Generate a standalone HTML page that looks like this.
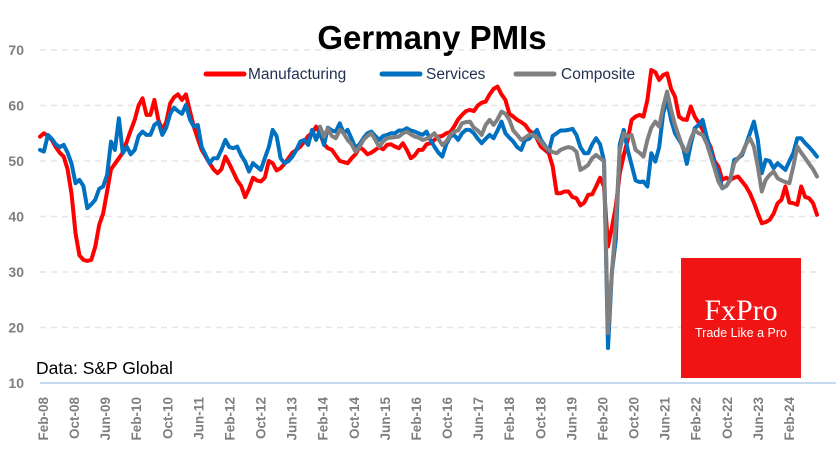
<!DOCTYPE html>
<html><head><meta charset="utf-8"><style>
html,body{margin:0;padding:0;background:#fff;}
#wrap{position:relative;width:836px;height:470px;overflow:hidden;font-family:"Liberation Sans",sans-serif;}
</style></head><body>
<div id="wrap">
<svg id="chart" width="836" height="470" xmlns="http://www.w3.org/2000/svg">
<text x="432" y="49" text-anchor="middle" font-family="Liberation Sans, sans-serif" font-weight="bold" font-size="33" fill="#000">Germany PMIs</text>
<g font-size="15.5" fill="#1f3050">
<g><line x1="206" y1="74" x2="244" y2="74" stroke="#ff0000" stroke-width="5" stroke-linecap="round"/><text x="248" y="79">Manufacturing</text></g>
<g><line x1="382" y1="74" x2="420" y2="74" stroke="#0070c0" stroke-width="5" stroke-linecap="round"/><text x="426" y="79">Services</text></g>
<g><line x1="516" y1="74" x2="554" y2="74" stroke="#808080" stroke-width="5" stroke-linecap="round"/><text x="561" y="79">Composite</text></g>
</g>
<g id="grid"></g>
<g id="yaxis"></g>
<g id="xaxis"></g>
<g id="series"></g>
<text x="36" y="374" font-size="17.5" fill="#000">Data: S&amp;P Global</text>
<g>
<rect x="681" y="258" width="120" height="120" fill="#f01414"/>
<text x="741" y="320" text-anchor="middle" font-family="Liberation Serif, serif" font-size="30" fill="#fff">FxPro</text>
<text x="741" y="337" text-anchor="middle" font-size="12.5" fill="#fff">Trade Like a Pro</text>
</g>
</svg>
</div>
<script>
const yTicks = [10,20,30,40,50,60,70];
const xTickLabels = ["Feb-08","Oct-08","Jun-09","Feb-10","Oct-10","Jun-11","Feb-12","Oct-12","Jun-13","Feb-14","Oct-14","Jun-15","Feb-16","Oct-16","Jun-17","Feb-18","Oct-18","Jun-19","Feb-20","Oct-20","Jun-21","Feb-22","Oct-22","Jun-23","Feb-24"];
const manufacturing = [54.4,55,54.5,53.8,52.5,51.5,50.8,48.5,44,37,33,32.2,32,32.2,34.5,38.5,40.5,44.5,48.5,49.5,50.5,51.5,53.5,55.5,57.4,60,61.3,58.3,58.3,61,57.4,55.6,57,60.4,61.5,62,61,62,59,56.2,54,52,50.8,49.6,48.5,47.8,48.5,50.8,49.5,48,46.5,45.5,43.5,45,47,46.5,46.3,47,50,49.6,48.3,48.7,49.5,50.5,51.5,52,52.6,53.5,54.5,55,56.2,55,53,52.3,52,51,50,49.8,49.6,50.5,51.2,52.5,52,51.2,51.5,52,52.5,52.1,52.9,53,52.6,52.3,53.2,52,50.5,51,52,52,53,53.2,53.8,54.4,54.5,55,55.2,56.2,57.5,58.3,59,59.2,59,60,60.5,60.7,62,63,63.4,62,61,58.5,58,57.4,57,56.5,55.5,55,54,52.6,52,51.4,49,44.2,44.2,44.5,44.5,43.5,43.3,42,42.5,43.9,44,45.4,47,45.4,34.6,38,41.8,47.8,51,53.8,57.4,58,58.3,58,61,66.4,66,64.6,65.5,65.8,63,61.6,58,57.5,57.4,59.8,58,56.9,55.6,54,52.6,50,49,46.6,47,46.6,47,47.2,46.3,45.4,44.2,42.5,40.6,38.8,39,39.4,40.5,42.4,43,45.4,42.5,42.4,42.1,45.4,43.5,43.3,42.4,40.3];
const services = [52,51.7,54.7,54,53,52.5,52.9,51.5,49.5,46,46.6,45.5,41.5,42.2,43,45,45.4,47.5,53.5,52,57.7,51.4,52.6,51.2,52,54.5,55.3,54.7,54.7,56.5,57,54.7,56,58.5,59.6,59,58.5,60.1,57.5,56.2,56.5,52.5,51,49.6,50.5,50.5,52,53.8,52.5,52.3,52.6,51,49.9,48.1,49.6,49,48.4,50.5,52.5,55.6,54.5,50.5,49.6,50,50.8,52,53.5,53.8,52.9,55.6,53.8,55.6,52.9,56,55.5,55.3,56.8,55,55.6,54,52.3,53,54.1,55,55.3,54.5,53.8,54.5,54.7,55,55,55.5,55.5,55.9,55.5,55.3,55,54.7,55.3,53.8,52.6,51.5,50.8,53,54.4,54.7,53.8,55,55.6,55.6,55,54,53.2,54,54.7,54.1,55.5,57.1,55,54.2,53.5,52.5,52,53.8,54,54.8,55.6,53.8,52.8,51.7,54.5,55,55.5,55.5,55.6,55.8,54.7,52.5,51.4,51.4,53,54.1,53,50,16.3,30,35.8,53,55.6,52,49.3,46.5,46.2,46.3,45.4,51.4,49.9,52.5,58.6,61,57.4,55,53.8,52.6,49.5,53,55.9,56.5,57.4,54.4,52,49.6,47.8,45.1,45.5,46.6,50.2,50.5,51.1,53,55,57.1,53.8,47.8,50.2,50,48.7,49.6,49,48.4,50,51.4,54.1,54.1,53.2,52.5,51.7,50.8];
const compositeStart = 71;
const composite = [56.2,54.4,55.9,54.5,54.1,55.6,55,53.8,53,51.7,52.5,53.8,54.5,55,53.8,52.6,53.5,54.1,54.2,54.3,54.4,55,55.3,54.8,54.4,54.2,53.8,54,54.4,55,54,52.9,53.5,54.7,55.3,55.5,56.8,57,57.1,56,55.5,54.7,56.5,57.4,56.5,57.5,58.9,58.5,57.4,55.5,54.7,53.8,54.2,54.7,54.7,54.2,53.5,52.6,52,51.6,51.4,52,52.3,52.5,52.3,51.7,48.4,48.8,49.3,50.5,51.1,50.5,50,19,30,38.8,52,55,54.4,54.7,52,51.5,50.8,53.8,56,57.1,56.2,59.8,62.5,59.2,56.5,54.4,52.3,51.7,54,55.6,55,54.7,53.2,51,48.7,46.3,45.1,45.5,46.6,49.6,50.5,51.4,53,54.1,52.6,49,44.5,46.6,47.5,48.1,46.9,46.5,46.2,46,49,52.6,51.5,50.5,49.5,48.5,47.2];

const NS = "http://www.w3.org/2000/svg";
const X0 = 40, X1 = 817, Y10 = 383, Y70 = 50;
const nPts = manufacturing.length;
function yScale(v){ return Y10 - (v - 10) * (Y10 - Y70) / 60; }
function xScale(i){ return X0 + i * (X1 - X0) / (nPts - 1); }
function xMonth(m){ return X0 + m * 3.885; }

const grid = document.getElementById('grid');
const yaxis = document.getElementById('yaxis');
yTicks.forEach(function(t){
  const y = yScale(t);
  if (t > 10) {
    const g = document.createElementNS(NS, 'line');
    
    
    g.setAttribute('x1', X0); g.setAttribute('x2', X1);
    g.setAttribute('y1', y); g.setAttribute('y2', y);
    g.setAttribute('stroke', '#e6e6e6'); g.setAttribute('stroke-width', '1.5');
    g.setAttribute('stroke-dasharray', '6,5');
    grid.appendChild(g);
  }
  const tx = document.createElementNS(NS, 'text');
  
  
  tx.setAttribute('x', 24); tx.setAttribute('y', y + 5);
  tx.setAttribute('text-anchor', 'end');
  tx.setAttribute('font-size', '14'); tx.setAttribute('font-weight', 'bold');
  tx.setAttribute('fill', '#7f7f7f');
  tx.textContent = t;
  yaxis.appendChild(tx);
});
const axl = document.createElementNS(NS, 'line');


axl.setAttribute('x1', X0); axl.setAttribute('x2', X1 + 80);
axl.setAttribute('y1', Y10); axl.setAttribute('y2', Y10);
axl.setAttribute('stroke', '#c5d9f1'); axl.setAttribute('stroke-width', '2');
grid.appendChild(axl);

const xaxis = document.getElementById('xaxis');
xTickLabels.forEach(function(lbl, j){
  const x = xMonth(j * 8) + 8;
  const tx = document.createElementNS(NS, 'text');
  
  
  tx.setAttribute('transform', 'translate(' + x + ',397) rotate(-90)');
  tx.setAttribute('text-anchor', 'end');
  tx.setAttribute('font-size', '13.5'); tx.setAttribute('font-weight', 'bold');
  tx.setAttribute('fill', '#7f7f7f');
  tx.textContent = lbl;
  xaxis.appendChild(tx);
});

const seriesG = document.getElementById('series');
function drawLine(values, start, color, name){
  const pts = values.map(function(v, i){ return xScale(i + start).toFixed(1) + ',' + yScale(v).toFixed(1); }).join(' ');
  const pl = document.createElementNS(NS, 'polyline');
  
  
  pl.setAttribute('points', pts);
  pl.setAttribute('fill', 'none');
  pl.setAttribute('stroke', color);
  pl.setAttribute('stroke-width', '4');
  pl.setAttribute('stroke-linejoin', 'round');
  pl.setAttribute('stroke-linecap', 'round');
  seriesG.appendChild(pl);
}
drawLine(manufacturing, 0, '#ff0000', 'manufacturing-line');
drawLine(services, 0, '#0070c0', 'services-line');
drawLine(composite, compositeStart, '#808080', 'composite-line');
</script>
</body></html>
